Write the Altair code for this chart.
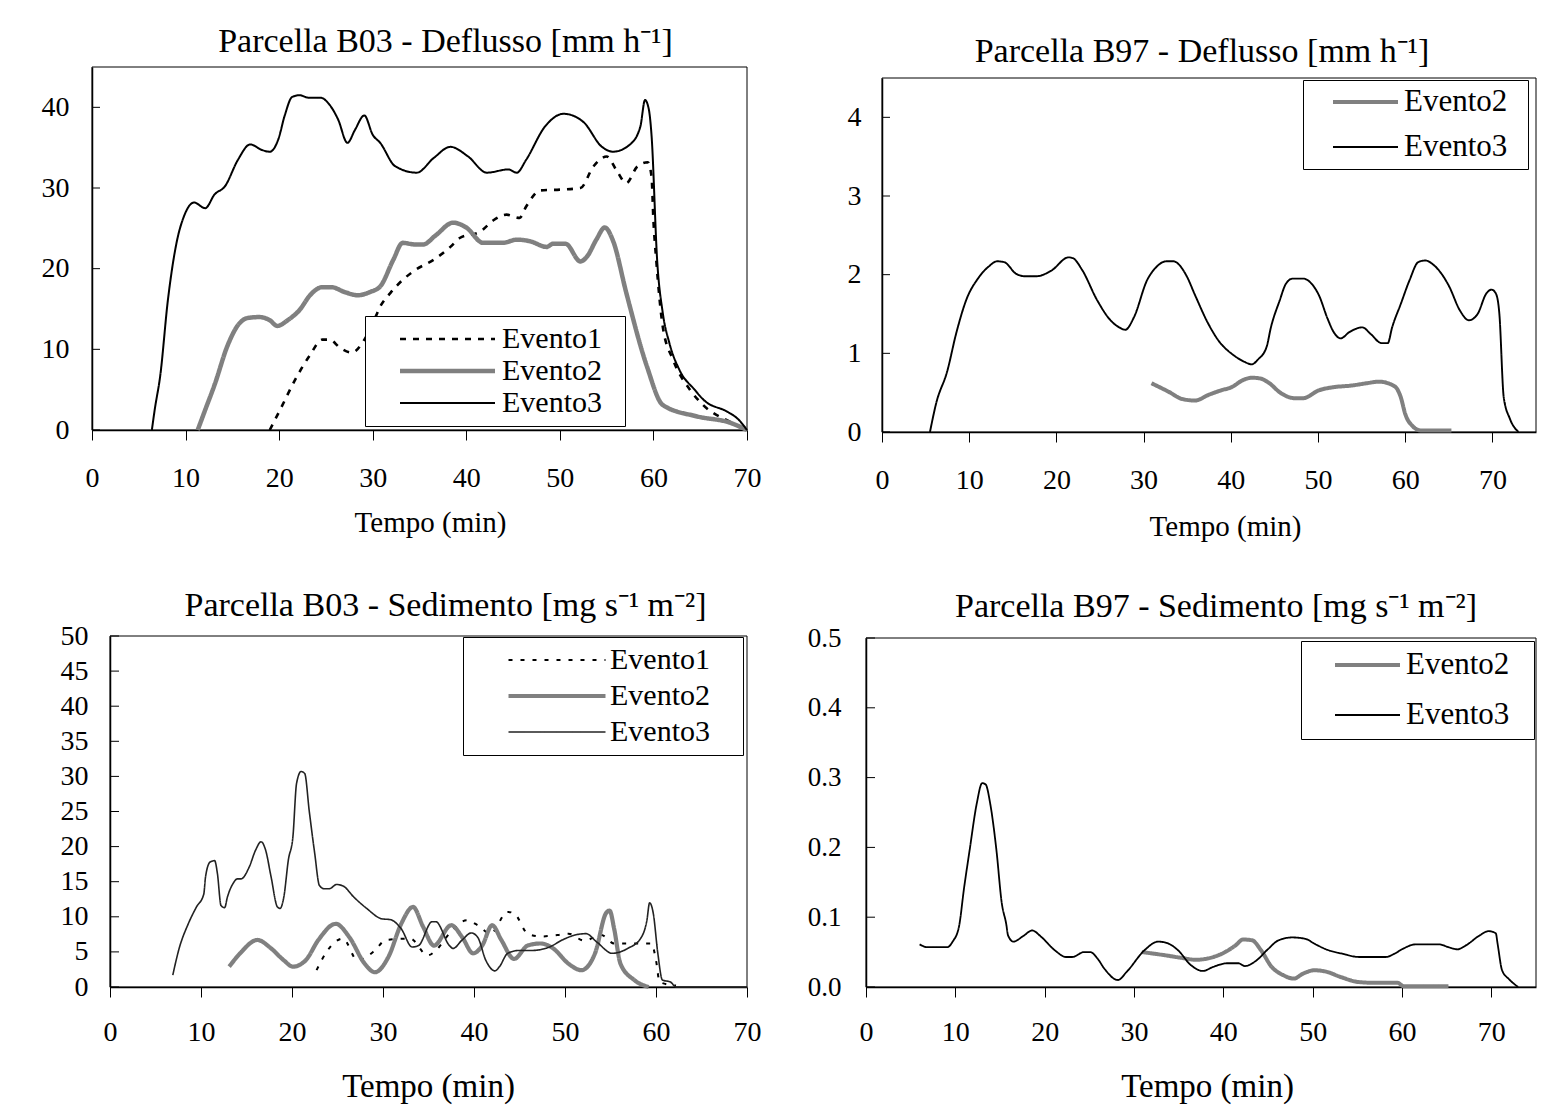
import altair as alt
import pandas as pd

FONT = "Liberation Serif"
NB = "\u00a0"
ZW = "\u200b"
HAIR = "\u200a"

X_TICKS = [0, 10, 20, 30, 40, 50, 60, 70]
X_TITLE = "Tempo (min)"

# ---------------- Panel A: Parcella B03 - Deflusso ----------------
A_TITLE = "Parcella B03 - Deflusso [mm h⁻¹]"
A_NAMES = ["Evento1", "Evento2", "Evento3"]
A_YTICKS = [0, 10, 20, 30, 40]
A_E1_T = [19.0, 20.1, 21.7, 23.3, 24.6, 25.4, 26.5, 27.8, 29.0, 30.0, 30.8, 31.9, 33.2, 34.5,
          36.5, 38.3, 39.3, 41.5, 42.9, 44.3, 45.7, 46.4, 47.9, 50.0, 52.2, 53.6, 55.0, 56.1,
          57.1, 58.3, 59.4, 59.8, 60.0, 60.3, 61.0, 62.1, 63.9, 65.3, 68.2, 70.0]
A_E1_Y = [0, 2.5, 6.2, 9.3, 11.2, 11.2, 10.2, 9.6, 11.0, 13.2, 15.3, 17.0, 18.6, 19.8,
          21.1, 22.7, 23.8, 24.6, 26.0, 26.7, 26.3, 27.7, 29.7, 29.8, 30.0, 32.7, 33.9, 32.1,
          30.6, 32.7, 33.2, 31.4, 26.0, 21.1, 12.8, 8.7, 5.0, 3.1, 1.0, 0]
A_E2_T = [11.3, 12.1, 13.1, 14.5, 15.6, 16.7, 17.9, 19.0, 19.8, 20.9, 22.2, 23.3, 24.6, 25.6,
          27.0, 28.4, 29.7, 30.8, 32.2, 33.2, 34.5, 35.4, 36.7, 38.6, 40.0, 41.8, 43.9, 45.4,
          46.8, 48.6, 49.3, 50.6, 52.2, 52.9, 53.9, 54.8, 55.7, 57.1, 59.3, 61.0, 64.6, 68.2, 70.0]
A_E2_Y = [0, 2.5, 5.6, 10.5, 13.0, 13.9, 14.0, 13.6, 12.9, 13.6, 14.9, 16.7, 17.7, 17.7,
          17.1, 16.7, 17.1, 17.8, 21.1, 23.2, 23.0, 23.0, 24.1, 25.7, 25.1, 23.2, 23.2, 23.6,
          23.4, 22.7, 23.1, 23.1, 20.9, 21.5, 23.6, 25.1, 23.4, 17.0, 7.9, 3.1, 1.7, 0.9, 0]
A_E3_T = [6.4, 6.7, 7.3, 8.1, 9.0, 9.9, 10.9, 12.1, 13.1, 14.2, 15.6, 16.9, 18.2, 19.0, 19.9,
          20.6, 21.4, 22.2, 23.1, 24.4, 25.4, 26.3, 27.3, 28.1, 29.1, 30.0, 30.8, 32.4, 34.7,
          36.5, 38.3, 40.2, 42.2, 44.5, 45.4, 46.4, 48.4, 50.4, 52.5, 54.5, 55.7, 57.5, 58.6,
          59.1, 59.5, 59.8, 60.4, 61.0, 61.7, 62.8, 64.4, 65.4, 68.0, 69.0, 70.0]
A_E3_Y = [0, 2.5, 6.8, 16.0, 23.0, 26.7, 28.2, 27.5, 29.2, 30.2, 33.5, 35.4, 34.7, 34.5, 36.0,
          39.0, 41.3, 41.5, 41.2, 41.2, 40.3, 38.5, 35.6, 37.2, 39.0, 36.6, 35.6, 32.7, 31.9,
          33.7, 35.1, 33.9, 31.9, 32.3, 31.9, 33.5, 37.6, 39.2, 38.2, 35.1, 34.5, 35.4, 37.6,
          40.9, 39.8, 36.5, 21.0, 14.5, 10.8, 7.4, 5.0, 3.7, 2.2, 1.4, 0]

# ---------------- Panel B: Parcella B97 - Deflusso ----------------
B_TITLE = "Parcella B97 - Deflusso [mm h⁻¹]"
B_NAMES = ["Evento2", "Evento3"]
B_YTICKS = [0, 1, 2, 3, 4]
B_E2_T = [30.9, 32.9, 34.4, 35.9, 37.4, 38.9, 40.1, 41.4, 42.4, 43.4, 44.3, 45.8, 47.3, 48.3,
          50.1, 51.8, 53.8, 55.6, 57.0, 58.8, 59.5, 60.0, 60.8, 61.8, 65.3]
B_E2_Y = [0.62, 0.51, 0.42, 0.40, 0.47, 0.53, 0.57, 0.66, 0.69, 0.68, 0.63, 0.49, 0.43, 0.43,
          0.53, 0.57, 0.59, 0.62, 0.64, 0.58, 0.44, 0.23, 0.08, 0.02, 0.02]
B_E3_T = [5.5, 6.2, 7.5, 8.5, 9.7, 11.0, 12.2, 13.2, 14.0, 15.4, 16.4, 17.7, 19.4, 21.4, 21.9,
          22.9, 24.7, 26.2, 27.2, 27.9, 28.9, 30.4, 31.4, 32.6, 33.4, 34.9, 35.9, 37.4, 38.6,
          40.4, 41.6, 42.4, 43.1, 44.1, 44.6, 45.6, 46.3, 47.1, 48.3, 49.3, 50.1, 51.1, 51.8,
          52.6, 53.6, 55.1, 56.0, 57.3, 58.0, 58.5, 59.5, 60.5, 61.5, 62.3, 63.3, 65.0, 66.3,
          67.3, 68.3, 69.3, 69.9, 70.4, 70.8, 71.3, 72.0, 73.0]
B_E3_Y = [0, 0.36, 0.78, 1.25, 1.69, 1.95, 2.10, 2.17, 2.16, 2.01, 1.98, 1.98, 2.05, 2.22, 2.21,
          2.07, 1.67, 1.42, 1.33, 1.30, 1.46, 1.93, 2.09, 2.17, 2.17, 1.99, 1.74, 1.38, 1.16,
          0.97, 0.89, 0.86, 0.92, 1.08, 1.33, 1.67, 1.88, 1.95, 1.95, 1.88, 1.74, 1.44, 1.27,
          1.19, 1.27, 1.33, 1.25, 1.13, 1.13, 1.33, 1.63, 1.93, 2.16, 2.18, 2.12, 1.86, 1.54,
          1.42, 1.50, 1.76, 1.81, 1.76, 1.50, 0.44, 0.17, 0]

# ---------------- Panel C: Parcella B03 - Sedimento ----------------
C_TITLE = "Parcella B03 - Sedimento [mg s⁻¹ m⁻²]"
C_NAMES = ["Evento1", "Evento2", "Evento3"]
C_YTICKS = [0, 5, 10, 15, 20, 25, 30, 35, 40, 45, 50]
C_E1_T = [22.7, 23.9, 25.6, 27.2, 29.1, 30.3, 33.0, 34.9, 35.8, 37.3, 39.2, 40.4, 41.8, 43.7,
          44.4, 45.9, 47.3, 49.2, 50.4, 52.1, 54.0, 55.4, 58.3, 59.5, 60.0, 60.4, 62.2]
C_E1_Y = [2.4, 5.2, 6.9, 3.8, 5.2, 6.7, 6.9, 4.5, 5.2, 7.6, 9.5, 8.8, 7.6, 10.7,
          10.5, 7.6, 7.2, 7.4, 7.6, 6.6, 7.4, 6.2, 6.2, 6.2, 3.8, 0.7, 0.2]
C_E2_T = [13.1, 14.3, 16.2, 17.7, 19.1, 20.1, 21.5, 22.9, 24.8, 26.3, 28.0, 29.1, 30.6, 32.0,
          33.3, 34.4, 35.6, 37.5, 38.7, 39.9, 40.9, 42.0, 43.0, 44.4, 45.9, 47.3, 48.7, 50.4,
          51.8, 53.3, 54.5, 54.9, 55.4, 56.1, 57.6, 59.2]
C_E2_Y = [2.9, 4.8, 6.7, 5.5, 3.8, 2.9, 3.8, 6.7, 9.0, 7.1, 3.3, 2.1, 4.3, 9.0,
          11.4, 8.6, 5.9, 8.8, 7.1, 4.8, 5.9, 8.8, 6.7, 4.0, 5.9, 6.2, 5.5, 3.3,
          2.4, 4.8, 10.5, 10.9, 8.3, 3.3, 1.0, 0]
C_E3_T = [6.9, 7.6, 8.6, 9.5, 10.3, 10.5, 11.0, 11.5, 11.8, 12.2, 12.6, 12.9, 13.5, 14.0, 14.4,
          15.3, 16.0, 16.6, 17.1, 17.7, 18.4, 18.7, 19.1, 19.6, 20.1, 20.5, 21.0, 21.4, 21.9,
          22.5, 23.0, 23.5, 24.1, 24.9, 25.6, 26.8, 28.2, 29.9, 30.8, 32.0, 33.2, 33.9, 35.4,
          35.8, 37.3, 37.7, 38.7, 39.7, 40.4, 41.3, 42.3, 42.8, 43.7, 44.9, 46.3, 48.3, 49.7,
          51.1, 52.3, 53.5, 55.2, 56.9, 58.3, 59.0, 59.3, 59.7, 60.2, 60.7, 61.6, 62.2, 70.0]
C_E3_Y = [1.7, 5.5, 9.0, 11.4, 13.2, 15.7, 17.8, 18.0, 16.2, 11.6, 11.3, 12.8, 14.7, 15.4, 15.4,
          17.1, 19.5, 20.7, 19.5, 15.7, 11.4, 11.2, 12.8, 18.1, 21.4, 29.0, 30.7, 30.4, 25.0,
          19.0, 14.5, 14.0, 14.0, 14.6, 14.4, 12.8, 11.2, 9.7, 9.6, 8.3, 5.7, 5.9, 9.3,
          9.3, 5.9, 5.5, 6.7, 7.7, 7.1, 3.8, 2.3, 2.9, 4.8, 5.2, 5.2, 5.7, 6.7,
          7.4, 7.6, 6.4, 4.8, 5.5, 6.9, 9.5, 12.0, 10.5, 4.8, 1.0, 0.7, 0, 0]

# ---------------- Panel D: Parcella B97 - Sedimento ----------------
D_TITLE = "Parcella B97 - Sedimento [mg s⁻¹ m⁻²]"
D_NAMES = ["Evento2", "Evento3"]
D_YTICKS = [0.0, 0.1, 0.2, 0.3, 0.4, 0.5]
D_E2_T = [30.9, 33.2, 35.2, 36.9, 38.9, 40.2, 41.4, 42.2, 43.2, 44.2, 45.4, 46.7, 47.9, 48.9,
          50.2, 51.5, 53.2, 55.2, 57.0, 59.5, 60.2, 65.2]
D_E2_Y = [0.050, 0.046, 0.042, 0.039, 0.043, 0.050, 0.060, 0.068, 0.067, 0.053, 0.029, 0.017,
          0.012, 0.019, 0.024, 0.022, 0.014, 0.007, 0.006, 0.006, 0.001, 0.001]
D_E3_T = [6.0, 6.9, 9.1, 9.7, 10.4, 11.0, 11.6, 12.4, 13.0, 13.4, 13.9, 14.6, 15.2, 15.7, 15.9,
          16.5, 17.6, 18.6, 19.6, 21.1, 22.4, 23.1, 24.4, 25.1, 25.9, 26.7, 28.2, 29.2, 31.2,
          32.7, 33.7, 34.9, 36.4, 37.7, 38.9, 40.4, 41.7, 42.4, 43.7, 44.9, 46.2, 47.7, 49.2,
          50.2, 51.7, 53.2, 55.2, 58.2, 59.2, 60.0, 61.5, 64.2, 65.2, 66.2, 67.2, 68.7, 69.7,
          70.5, 70.7, 71.2, 72.0, 73.0]
D_E3_Y = [0.061, 0.057, 0.057, 0.065, 0.086, 0.144, 0.196, 0.263, 0.292, 0.290, 0.263, 0.196,
          0.120, 0.090, 0.074, 0.065, 0.073, 0.081, 0.072, 0.053, 0.043, 0.043, 0.050, 0.050,
          0.041, 0.026, 0.010, 0.022, 0.053, 0.065, 0.063, 0.053, 0.031, 0.023, 0.029, 0.034,
          0.034, 0.030, 0.038, 0.053, 0.067, 0.071, 0.069, 0.062, 0.053, 0.048, 0.043, 0.043,
          0.048, 0.054, 0.061, 0.061, 0.057, 0.054, 0.060, 0.074, 0.080, 0.077, 0.062, 0.024,
          0.011, 0]


def series_frame(names, ts_list, ys_list):
    rows = []
    for name, ts, ys in zip(names, ts_list, ys_list):
        assert len(ts) == len(ys), name
        for t, v in zip(ts, ys):
            rows.append({"t": t, "v": v, "serie": name})
    return pd.DataFrame(rows)


def panel(p):
    xs = alt.Scale(domain=p["xdom"], range=p["xrange"], nice=False, zero=False)
    ys = alt.Scale(domain=p["ydom"], range=p["yrange"], nice=False, zero=False)
    xaxis = alt.Axis(values=X_TICKS, title=X_TITLE, titleFont=FONT, titleFontSize=p["xtsize"],
                     titleFontWeight="normal", titleColor="black", titleX=p["xtx"], titleY=p["xty"],
                     titleBaseline="alphabetic", titleAlign="center",
                     labelFont=FONT, labelFontSize=28, labelColor="black", labelPadding=p["xlpad"],
                     labelFlush=False, labelOverlap=False, tickSize=10, tickColor="black",
                     tickWidth=1, domainColor="black", domainWidth=1.5, grid=False)
    yaxis = alt.Axis(values=p["yticks"], title=None, format=p["yfmt"], labelFont=FONT,
                     labelFontSize=p["ylsize"], labelColor="black", labelPadding=p["ylpad"],
                     labelFlush=False, labelOverlap=False, ticks=False, tickSize=0,
                     domainColor="black", domainWidth=1.5, grid=False, offset=p["yoff"])
    X = lambda f: alt.X(f, type="quantitative", scale=xs, axis=xaxis)
    Y = lambda f: alt.Y(f, type="quantitative", scale=ys, axis=yaxis)

    names = p["names"]
    leg = alt.Legend(orient="none", legendX=p["lx"], legendY=p["ly"], title=None,
                     symbolType="stroke", symbolSize=p["ssize"], clipHeight=30,
                     rowPadding=p["rpad"], padding=p["pad"], labelOffset=p["loff"],
                     symbolOffset=p["soff"], strokeColor="black", fillColor="white",
                     labelFont=FONT, labelFontSize=p["lfs"], labelColor="black",
                     labelExpr="datum.label + '" + p["tail"] + ZW + "'")

    frame_df = pd.DataFrame({"t": [p["xdom"][0]], "t2": [p["xdom"][1]],
                             "v": [p["ydom"][0]], "v2": [p["ydom"][1]]})
    frame = alt.Chart(frame_df).mark_rect(fillOpacity=0, stroke="black", strokeWidth=1).encode(
        x=X("t"), x2="t2", y=Y("v"), y2="v2")

    tick_df = pd.DataFrame({"t": [p["xdom"][0]] * len(p["yticks"]),
                            "t2": [p["xdom"][0]] * len(p["yticks"]),
                            "v": p["yticks"]})
    ticks = alt.Chart(tick_df).mark_rule(color="black", strokeWidth=1, x2Offset=p["tlen"]).encode(
        x=X("t"), x2="t2", y=Y("v"))

    lines = alt.Chart(p["df"]).mark_line(interpolate="monotone", strokeCap="butt",
                                         strokeJoin="round").encode(
        x=X("t"), y=Y("v"),
        color=alt.Color("serie:N", scale=alt.Scale(domain=names, range=p["colors"]), legend=leg),
        strokeDash=alt.StrokeDash("serie:N", scale=alt.Scale(domain=names, range=p["dashes"]),
                                  legend=leg),
        strokeWidth=alt.StrokeWidth("serie:N", scale=alt.Scale(type="ordinal", domain=names,
                                                               range=p["widths"]), legend=leg),
    )
    title = alt.TitleParams(text=p["title"], font=FONT, fontSize=34, fontWeight="normal",
                            color="black", anchor="middle", dx=p["tdx"], offset=p["toff"],
                            baseline="alphabetic")
    return alt.layer(frame, ticks, lines).properties(width=p["w"], height=p["h"], title=title)


pA = dict(df=series_frame(A_NAMES, [A_E1_T, A_E2_T, A_E3_T], [A_E1_Y, A_E2_Y, A_E3_Y]),
          names=A_NAMES, colors=["black", "#808080", "black"], dashes=[[6, 7], [1, 0], [1, 0]],
          widths=[2.6, 4.5, 2.0], xdom=[0, 70], ydom=[0, 45], w=655, h=363,
          xrange=[0, 655], yrange=[363, 0], yoff=0, yticks=A_YTICKS, yfmt="d", ylsize=28,
          ylpad=23, tlen=8, xlpad=24, xtsize=29, xtx=338, xty=101, title=A_TITLE, tdx=26,
          toff=-19, lx=273, ly=249, pad=8, ssize=9025, rpad=2, loff=4.5, soff=24.5, lfs=30,
          tail=NB * 2)

pB = dict(df=series_frame(B_NAMES, [B_E2_T, B_E3_T], [B_E2_Y, B_E3_Y]),
          names=B_NAMES, colors=["#808080", "black"], dashes=[[1, 0], [1, 0]],
          widths=[4.0, 1.9], xdom=[0, 75], ydom=[0, 4.5], w=670, h=365,
          xrange=[16, 670], yrange=[365, 11], yoff=-16, yticks=B_YTICKS, yfmt="d", ylsize=28,
          ylpad=21, tlen=8, xlpad=24, xtsize=29, xtx=359, xty=103, title=B_TITLE, tdx=1,
          toff=-29, lx=437, ly=13, pad=7, ssize=4225, rpad=14, loff=4, soff=21, lfs=31,
          tail=NB + HAIR * 2)

pC = dict(df=series_frame(C_NAMES, [C_E1_T, C_E2_T, C_E3_T], [C_E1_Y, C_E2_Y, C_E3_Y]),
          names=C_NAMES, colors=["black", "#808080", "#222222"], dashes=[[4, 8], [1, 0], [1, 0]],
          widths=[2.0, 4.2, 1.6], xdom=[0, 70], ydom=[0, 50], w=655, h=351,
          xrange=[18, 655], yrange=[351, 0], yoff=-18, yticks=C_YTICKS, yfmt="d", ylsize=28,
          ylpad=22, tlen=9, xlpad=21.5, xtsize=33, xtx=336, xty=109, title=C_TITLE, tdx=26,
          toff=-27.5, lx=371, ly=1, pad=8, ssize=9409, rpad=6, loff=2, soff=35, lfs=30,
          tail=NB * 3 + HAIR)

pD = dict(df=series_frame(D_NAMES, [D_E2_T, D_E3_T], [D_E2_Y, D_E3_Y]),
          names=D_NAMES, colors=["#808080", "black"], dashes=[[1, 0], [1, 0]],
          widths=[4.0, 1.8], xdom=[0, 75], ydom=[0, 0.5], w=670, h=349,
          xrange=[0, 670], yrange=[349, 0], yoff=0, yticks=D_YTICKS, yfmt=".1f", ylsize=27,
          ylpad=25, tlen=9, xlpad=21.5, xtsize=33, xtx=341, xty=109, title=D_TITLE, tdx=15,
          toff=-27, lx=435, ly=3, pad=9, ssize=4225, rpad=19, loff=4, soff=23, lfs=31,
          tail=NB * 2)

IND = dict(color="independent", strokeDash="independent", strokeWidth="independent")

col1 = alt.vconcat(panel(pA), panel(pC), spacing=51).resolve_scale(**IND).resolve_legend(**IND)
col2 = alt.vconcat(panel(pB), panel(pD), spacing=49).resolve_scale(**IND).resolve_legend(**IND)

chart = alt.hconcat(col1, col2, spacing=46).resolve_scale(**IND).resolve_legend(**IND).properties(
    padding={"left": 41, "top": 24, "right": 5, "bottom": 5},
    background="white",
).configure_view(stroke=None)

chart.save("out.html", embed_options={"renderer": "svg", "actions": False})
